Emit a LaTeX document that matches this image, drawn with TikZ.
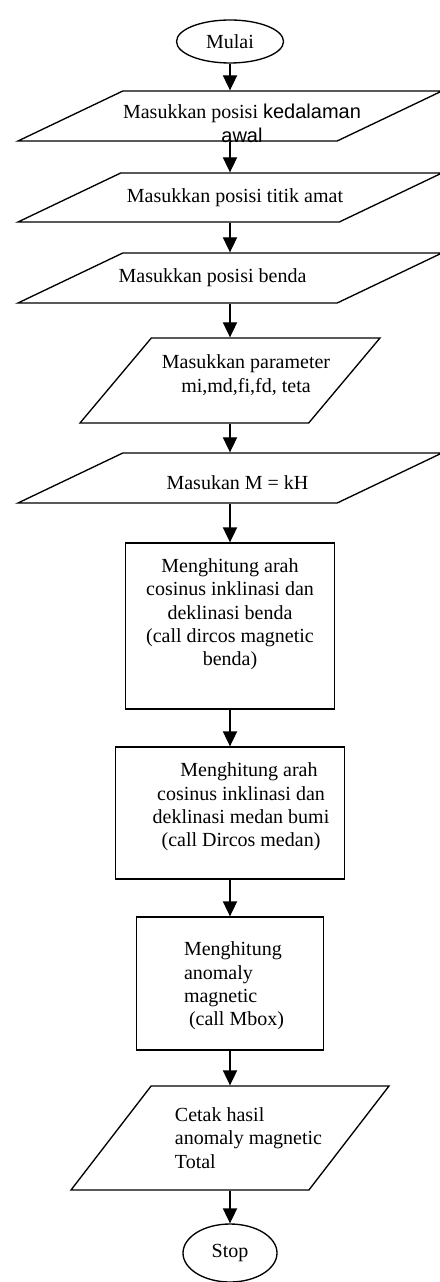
\documentclass[tikz,border=0pt]{standalone}
\usepackage{fontspec}
\setmainfont{Liberation Serif}
\newfontfamily\arialfont{Liberation Sans}
\usetikzlibrary{shapes.geometric,arrows.meta}

\begin{document}
\begin{tikzpicture}[
        x=0.6pt, y=-0.6pt,
        font=\fontsize{12}{14}\selectfont,
        term/.style={ellipse, draw=black, line width=0.8pt, inner sep=0pt},
        box/.style={rectangle, draw=black, line width=0.8pt, inner sep=0pt},
        io/.style={trapezium, trapezium stretches body, draw=black,
            line width=0.8pt, inner xsep=0pt},
        flat/.style={io, trapezium left angle=25.5, trapezium right angle=154.5,
            minimum width=254.4pt, inner ysep=15pt},
        txt/.style={align=center, inner sep=0pt},
        arrow/.style={-{Triangle[length=9pt,width=8.5pt]}, line width=0.8pt}
    ]
    \useasboundingbox (0,0) rectangle (439,1282);

    % Mulai
    \node[term, minimum width=64.2pt, minimum height=25.8pt] (mulai) at (230,41.5) {Mulai};

    % Input
    \node[flat, label={[txt, xshift=7.2pt, yshift=-4.5pt]center:{Masukkan posisi {\arialfont kedalaman}\\{\arialfont awal}}}]
        (kedalaman) at (230,116) {};
    \node[flat, inner ysep=14.7pt, label={[txt, xshift=3pt]center:{Masukkan posisi titik amat}}]
        (titik) at (230,197.5) {};
    \node[flat, label={[txt, xshift=-10.5pt]center:{Masukkan posisi benda}}]
        (benda) at (230,278) {};
    \node[io, trapezium left angle=50, trapezium right angle=130,
          minimum width=180pt, inner ysep=25.5pt,
          label={[txt, xshift=9.6pt, yshift=3.3pt]center:{Masukkan parameter\\mi,md,fi,fd, teta}}]
        (param) at (230,380.5) {};
    \node[flat, label={[txt, xshift=4.5pt, yshift=-3pt]center:{Masukan M = kH}}]
        (mkh) at (230,478) {};

    % Proses
    \node[box, minimum width=125.4pt, minimum height=99.6pt,
          label={[txt, yshift=6.9pt]center:{Menghitung arah\\cosinus inklinasi dan\\deklinasi benda\\(call dircos magnetic\\benda)}}]
        (dirbenda) at (230,626) {};
    \node[box, minimum width=137.4pt, minimum height=79.2pt,
          label={[txt, xshift=6.6pt, yshift=3.6pt]center:{\hspace*{0.8em}Menghitung arah\\cosinus inklinasi dan\\deklinasi medan bumi\\(call Dircos medan)}}]
        (dirmedan) at (230,813) {};
    \node[box, minimum width=112.2pt, minimum height=79.8pt,
          label={[txt, align=left, xshift=2.4pt, yshift=-1.5pt]center:{Menghitung\\anomaly\\magnetic\\\hspace*{3pt}(call Mbox)}}]
        (mbox) at (230,983.5) {};

    % Output
    \node[io, trapezium left angle=52.4, trapezium right angle=127.6,
          minimum width=190.8pt, inner ysep=31.2pt,
          label={[txt, align=left, xshift=11.1pt]center:{Cetak hasil\\anomaly magnetic\\Total}}]
        (cetak) at (230,1138) {};

    % Stop
    \node[term, minimum width=56.4pt, minimum height=34.8pt] (stop) at (230,1253) {Stop};

    % Alur
    \draw[arrow] (mulai) -- (kedalaman);
    \draw[arrow] (kedalaman) -- (titik);
    \draw[arrow] (titik) -- (benda);
    \draw[arrow] (benda) -- (param);
    \draw[arrow] (param) -- (mkh);
    \draw[arrow] (mkh) -- (dirbenda);
    \draw[arrow] (dirbenda) -- (dirmedan);
    \draw[arrow] (dirmedan) -- (mbox);
    \draw[arrow] (mbox) -- (cetak);
    \draw[arrow] (cetak) -- (stop);

\end{tikzpicture}
\end{document}
